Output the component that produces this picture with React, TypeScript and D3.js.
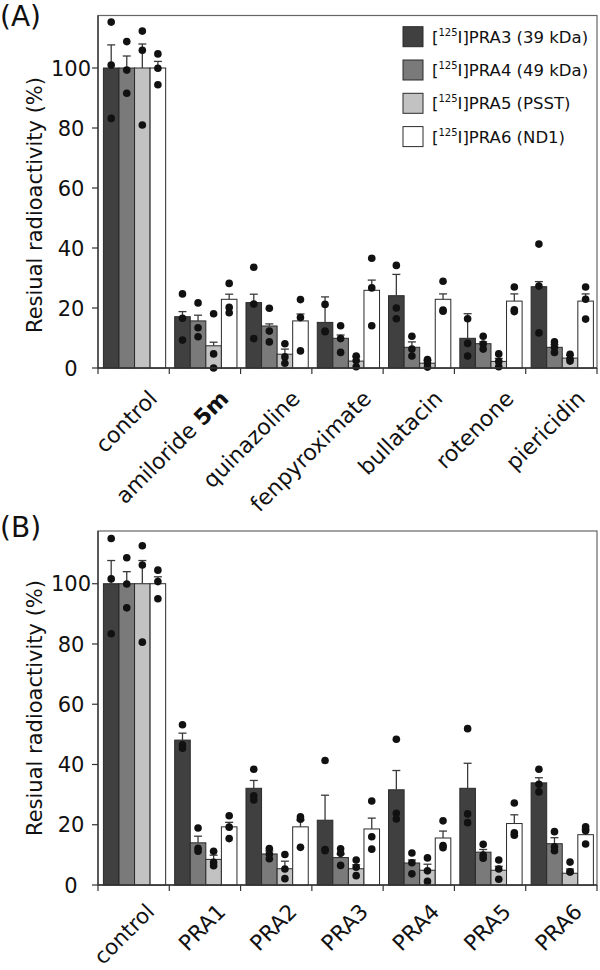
import React from "react";
import * as d3 from "d3";

const seriesKeys = ["PRA3 (39 kDa)", "PRA4 (49 kDa)", "PRA5 (PSST)", "PRA6 (ND1)"];
const seriesColors = ["#404040", "#7a7a7a", "#c2c2c2", "#ffffff"];
const categoriesA = ["control", "amiloride 5m", "quinazoline", "fenpyroximate", "bullatacin", "rotenone", "piericidin"];
const categoriesB = ["control", "PRA1", "PRA2", "PRA3", "PRA4", "PRA5", "PRA6"];
const yTicks = [0, 20, 40, 60, 80, 100];

// Panel A: [series][category]
const meanA = [
  [100, 17.1, 21.8, 15.2, 24.1, 9.9, 27.1],
  [100, 15.7, 14, 9.9, 6.9, 8.1, 6.9],
  [100, 7.4, 4.6, 2.3, 1.6, 2.2, 3.3],
  [100, 22.9, 15.7, 25.9, 22.9, 22.3, 22.3],
];
const errTopA = [
  [107.7, 18.8, 24.6, 23.7, 31.2, 18.1, 28.8],
  [104, 17.6, 14.7, 11, 8.7, 8.7, 7.8],
  [108, 8.6, 6.3, 3.8, 2.5, 3.2, 4.2],
  [102.2, 24.6, 18, 29.3, 24.7, 24.7, 24.7],
];
const pointsA = [
  [[115.3, 101, 83.2], [24.7, 16.6, 9.3], [33.6, 21.3, 9.8], [21.2, 12.3, 12.1], [34.2, 20, 16.4], [16.4, 8.2, 4], [41.3, 27.3, 11.7]],
  [[108.8, 99.3, 91.6], [21.7, 13.4, 10.4], [19.9, 12.3, 8.7], [14.1, 9.8, 5.2], [10.6, 6.3, 4], [10.6, 8, 6.3], [8.7, 6.9, 5.2]],
  [[112.3, 105.9, 81], [18.1, 4.7, 0], [8.1, 3.7, 1.6], [4, 2.5, 0.4], [2.8, 1.7, 0.3], [4.7, 2.2, 0.4], [4.6, 3, 2.3]],
  [[104.7, 99.9, 94.4], [28.2, 20.2, 18.4], [22.8, 16.8, 5.7], [36.6, 26.7, 14.1], [28.9, 19.3, 18.9], [27, 19.4, 18.8], [27, 22.9, 16.3]],
];

// Panel B
const meanB = [
  [100, 48.1, 32.1, 21.5, 31.6, 32.1, 33.9],
  [100, 14, 10.3, 9.1, 7.3, 10.9, 13.7],
  [100, 8.5, 5.4, 5.4, 4.9, 4.9, 3.9],
  [100, 19.3, 19.3, 18.6, 15.6, 20.4, 16.7],
];
const errTopB = [
  [107.7, 50.4, 34.7, 29.8, 38, 40.4, 35.6],
  [104, 16.2, 11.3, 10.2, 8.3, 11.8, 15.7],
  [107.7, 9.9, 7.9, 6.7, 6.9, 6.2, 5.3],
  [102.3, 20.8, 21.5, 22.2, 17.9, 23.3, 18.5],
];
const pointsB = [
  [[115, 101.6, 83.4], [53.2, 46.5, 45.4], [38.4, 29.6, 28.2], [41.3, 11.8, 11.4], [48.4, 23.8, 21.9], [51.9, 23.6, 20.7], [38.4, 33.4, 30.9]],
  [[108.6, 99.9, 92], [18.9, 12.2, 11.2], [12.1, 10.3, 8.7], [12, 10.5, 6.5], [10.6, 7.4, 3.7], [13.5, 9.9, 8.9], [17.7, 12.7, 11.4]],
  [[112.6, 106.2, 80.6], [11.2, 7.5, 6.4], [10.1, 5.3, 2.1], [8.3, 5.9, 3.1], [9, 4.7, 1.2], [8.3, 5.3, 1.9], [7.6, 4.4, 4.3]],
  [[104.5, 100.7, 95], [23, 19.2, 15.4], [22.6, 21.8, 12.5], [27.9, 16, 11.9], [21.3, 13.1, 12.4], [27.2, 17.3, 16.5], [19.3, 18, 13.6]],
];

const FONT = "'DejaVu Sans', Verdana, sans-serif";
const LEFT = 98;
const RIGHT = 597;
const YMAX = 117.5;

function CatLabel({ text }: { text: string }) {
  if (text.endsWith(" 5m")) {
    return (
      <>
        {text.slice(0, -2)}
        <tspan fontWeight="bold">5m</tspan>
      </>
    );
  }
  return <>{text}</>;
}

function Panel(props: {
  cats: string[];
  mean: number[][];
  err: number[][];
  pts: number[][][];
  zero: number;
  top: number;
  tag: string;
  tagY: number;
  lblDx: number;
  lblDy: number;
  lblSize: number;
  axisLabelY: number;
}) {
  const { cats, mean, err, pts, zero, top, tag, tagY, lblDx, lblDy, lblSize, axisLabelY } = props;
  const x = d3.scaleBand<string>().domain(cats).range([LEFT, RIGHT]).padding(0);
  const inner = d3
    .scaleBand<string>()
    .domain(seriesKeys)
    .range([0, x.bandwidth()])
    .paddingInner(0)
    .paddingOuter(0.29)
    .align(0.6);
  const y = d3.scaleLinear().domain([0, YMAX]).range([zero, top]);
  const bw = inner.bandwidth();
  const boundaries = [...cats.map((c) => x(c) as number), RIGHT];

  return (
    <g>
      <text x={0} y={tagY} fontFamily={FONT} fontSize={28} fill="#111">
        {tag}
      </text>
      <rect x={LEFT} y={top} width={RIGHT - LEFT} height={zero - top} fill="none" stroke="#666" strokeWidth={1.2} />
      {seriesKeys.map((s, si) =>
        cats.map((c, ci) => {
          const bx = (x(c) as number) + (inner(s) as number);
          return (
            <rect
              key={`b${si}-${ci}`}
              x={bx}
              y={y(mean[si][ci])}
              width={bw}
              height={zero - y(mean[si][ci])}
              fill={seriesColors[si]}
              stroke="#2a2a2a"
              strokeWidth={1}
            />
          );
        })
      )}
      {seriesKeys.map((s, si) =>
        cats.map((c, ci) => {
          const cx = (x(c) as number) + (inner(s) as number) + bw / 2;
          return (
            <g key={`e${si}-${ci}`} stroke="#3a3a3a" strokeWidth={1.3}>
              <line x1={cx} x2={cx} y1={y(mean[si][ci])} y2={y(err[si][ci])} />
              <line x1={cx - 4} x2={cx + 4} y1={y(err[si][ci])} y2={y(err[si][ci])} />
            </g>
          );
        })
      )}
      {seriesKeys.map((s, si) =>
        cats.map((c, ci) => {
          const cx = (x(c) as number) + (inner(s) as number) + bw / 2;
          return pts[si][ci].map((v, pi) => (
            <circle key={`p${si}-${ci}-${pi}`} cx={cx} cy={y(v)} r={3.8} fill="#111" />
          ));
        })
      )}
      <line x1={LEFT} x2={LEFT} y1={top} y2={zero} stroke="#333" strokeWidth={1.3} />
      <line x1={LEFT} x2={RIGHT} y1={zero} y2={zero} stroke="#333" strokeWidth={1.3} />
      {yTicks.map((t) => (
        <g key={`yt${t}`}>
          <line x1={LEFT - 6} x2={LEFT} y1={y(t)} y2={y(t)} stroke="#333" strokeWidth={1.2} />
          <text x={71} y={y(t)} dy="0.36em" textAnchor="middle" fontFamily={FONT} fontSize={21} fill="#111">
            {t}
          </text>
        </g>
      ))}
      {boundaries.map((b, i) => (
        <line key={`xt${i}`} x1={b} x2={b} y1={zero} y2={zero + 6} stroke="#333" strokeWidth={1.2} />
      ))}
      {cats.map((c) => {
        const cx = (x(c) as number) + x.bandwidth() / 2;
        return (
          <text
            key={`xl${c}`}
            transform={`translate(${cx + lblDx},${zero + lblDy}) rotate(-45)`}
            textAnchor="end"
            fontFamily={FONT}
            fontSize={lblSize}
            fill="#111"
          >
            <CatLabel text={c} />
          </text>
        );
      })}
      <text
        transform={`translate(42,${axisLabelY}) rotate(-90)`}
        textAnchor="middle"
        fontFamily={FONT}
        fontSize={21}
        fill="#111"
      >
        Resiual radioactivity (%)
      </text>
    </g>
  );
}

function Legend() {
  const startY = 36.7;
  const step = 33.3;
  return (
    <g>
      {seriesKeys.map((s, i) => {
        const cy = startY + i * step;
        return (
          <g key={s}>
            <rect x={403} y={cy - 10} width={20} height={20} fill={seriesColors[i]} stroke="#2a2a2a" strokeWidth={1} />
            <text x={432} y={cy + 6} fontFamily={FONT} fontSize={16.5} fill="#111">
              [
              <tspan fontSize={10} dy={-7}>
                125
              </tspan>
              <tspan dy={7}>I]{s.replace(" (", "\u00a0(")}</tspan>
            </text>
          </g>
        );
      })}
    </g>
  );
}

export default function App() {
  return (
    <svg
      width={600}
      height={970}
      viewBox="0 0 600 970"
      style={{ position: "absolute", left: 0, top: 0, background: "#fff" }}
    >
      <rect x={0} y={0} width={600} height={970} fill="#fff" />
      <Panel
        cats={categoriesA}
        mean={meanA}
        err={errTopA}
        pts={pointsA}
        zero={368}
        top={15.5}
        tag="(A)"
        tagY={26}
        lblDx={25}
        lblDy={32}
        lblSize={22}
        axisLabelY={205}
      />
      <Legend />
      <Panel
        cats={categoriesB}
        mean={meanB}
        err={errTopB}
        pts={pointsB}
        zero={885}
        top={531}
        tag="(B)"
        tagY={537}
        lblDx={22}
        lblDy={28}
        lblSize={21.5}
        axisLabelY={708}
      />
    </svg>
  );
}
